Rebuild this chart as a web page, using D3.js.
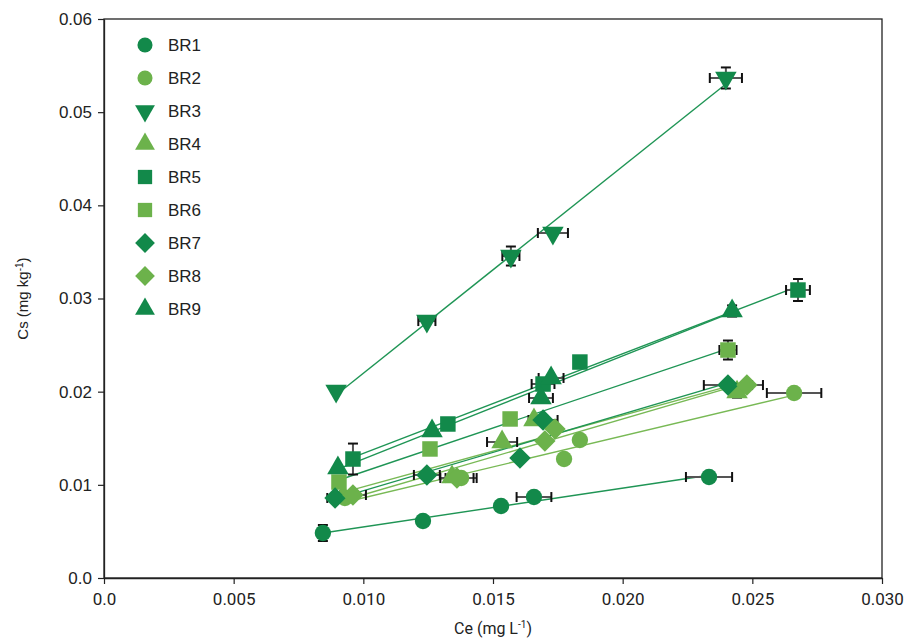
<!DOCTYPE html>
<html>
<head>
<meta charset="utf-8">
<script src="https://cdn.jsdelivr.net/npm/d3@7"></script>
<style>
  body { margin: 0; background: #fff; }
  svg text { fill: #222; }
</style>
</head>
<body>
<div id="chart"></div>
<script>
// series names (order = legend order)
const seriesNames = ["BR1", "BR2", "BR3", "BR4", "BR5", "BR6", "BR7", "BR8", "BR9"];
const xTicks = [0, 0.005, 0.010, 0.015, 0.020, 0.025, 0.030];
const yTicks = [0, 0.01, 0.02, 0.03, 0.04, 0.05, 0.06];

// Ce values (x), Cs values (y), and errors, per series
const ceBR1 = [0.00844, 0.01230, 0.01531, 0.01658, 0.02333];
const csBR1 = [0.00483, 0.00612, 0.00773, 0.00869, 0.01084];
const xeBR1 = [0, 0, 0, 0.00067, 0.00089];
const yeBR1 = [0.00086, 0, 0, 0, 0];

const ceBR2 = [0.00929, 0.01377, 0.01774, 0.01835, 0.02661];
const csBR2 = [0.00859, 0.01073, 0.01277, 0.01481, 0.01986];
const xeBR2 = [0, 0.0006, 0, 0, 0.00105];
const yeBR2 = [0, 0, 0, 0, 0];

const ceBR3 = [0.00895, 0.01245, 0.01569, 0.01731, 0.02398];
const csBR3 = [0.02007, 0.02758, 0.03456, 0.03703, 0.05367];
const xeBR3 = [0, 0.00033, 0.00033, 0.00058, 0.00062];
const yeBR3 = [0, 0, 0.00102, 0, 0.00113];

const ceBR4 = [0.00922, 0.01342, 0.01535, 0.01658, 0.02441];
const csBR4 = [0.00880, 0.01084, 0.01460, 0.01696, 0.01996];
const xeBR4 = [0, 0, 0.00058, 0, 0];
const yeBR4 = [0, 0, 0, 0, 0.0006];

const ceBR5 = [0.00960, 0.01326, 0.01693, 0.01835, 0.02676];
const csBR5 = [0.01277, 0.01653, 0.02082, 0.02318, 0.03091];
const xeBR5 = [0, 0, 0.00044, 0, 0.00046];
const yeBR5 = [0.00166, 0, 0, 0, 0.00118];

const ceBR6 = [0.00906, 0.01257, 0.01566, 0.02406];
const csBR6 = [0.01030, 0.01385, 0.01707, 0.02447];
const xeBR6 = [0, 0, 0, 0.00033];
const yeBR6 = [0, 0, 0, 0.00102];

const ceBR7 = [0.00891, 0.01245, 0.01604, 0.01693, 0.02406];
const csBR7 = [0.00859, 0.01106, 0.01288, 0.01696, 0.02071];
const xeBR7 = [0.0003, 0.0005, 0, 0.00056, 0.00093];
const yeBR7 = [0, 0, 0, 0, 0.0003];

const ceBR8 = [0.00960, 0.01361, 0.01700, 0.01739, 0.02479];
const csBR8 = [0.00891, 0.01073, 0.01470, 0.01599, 0.02071];
const xeBR8 = [0.0005, 0.00064, 0, 0, 0.00062];
const yeBR8 = [0, 0, 0, 0, 0];

const ceBR9 = [0.00902, 0.01265, 0.01685, 0.01724, 0.02422];
const csBR9 = [0.01181, 0.01578, 0.01932, 0.02147, 0.02866];
const xeBR9 = [0, 0, 0.00046, 0.00048, 0];
const yeBR9 = [0, 0, 0, 0, 0.0006];

const dark = "#12894a", light = "#6cb24b";
const darkLine = "#1f9555", lightLine = "#78b955";

let series = [
  { name: "BR1", ce: ceBR1, cs: csBR1, xe: xeBR1, ye: yeBR1, color: dark,  line: darkLine,  shape: "circle" },
  { name: "BR2", ce: ceBR2, cs: csBR2, xe: xeBR2, ye: yeBR2, color: light, line: lightLine, shape: "circle" },
  { name: "BR3", ce: ceBR3, cs: csBR3, xe: xeBR3, ye: yeBR3, color: dark,  line: darkLine,  shape: "tridown" },
  { name: "BR4", ce: ceBR4, cs: csBR4, xe: xeBR4, ye: yeBR4, color: light, line: lightLine, shape: "triup" },
  { name: "BR5", ce: ceBR5, cs: csBR5, xe: xeBR5, ye: yeBR5, color: dark,  line: darkLine,  shape: "square" },
  { name: "BR6", ce: ceBR6, cs: csBR6, xe: xeBR6, ye: yeBR6, color: light, line: darkLine,  shape: "square" },
  { name: "BR7", ce: ceBR7, cs: csBR7, xe: xeBR7, ye: yeBR7, color: dark,  line: darkLine,  shape: "diamond" },
  { name: "BR8", ce: ceBR8, cs: csBR8, xe: xeBR8, ye: yeBR8, color: light, line: lightLine, shape: "diamond" },
  { name: "BR9", ce: ceBR9, cs: csBR9, xe: xeBR9, ye: yeBR9, color: dark,  line: darkLine,  shape: "triup" }
];

let dim = { width: 909, height: 638, margin: { top: 19, right: 27, bottom: 60, left: 104 } };
dim.plot = {
  width: dim.width - dim.margin.left - dim.margin.right,
  height: dim.height - dim.margin.top - dim.margin.bottom
};

let x = d3.scaleLinear().domain([0, 0.03]).range([0, dim.plot.width]);
let y = d3.scaleLinear().domain([0, 0.06]).range([dim.plot.height, 0]);

function symbolPath(shape, scale) {
  scale = scale || 1;
  if (shape === "circle") return d3.symbol(d3.symbolCircle, 210 * scale)();
  if (shape === "square") return d3.symbol(d3.symbolSquare, 240 * scale)();
  if (shape === "diamond") return d3.symbol(d3.symbolSquare, 230 * scale)();
  return d3.symbol(d3.symbolTriangle, 200 * scale)();
}
function symbolRotate(shape) {
  if (shape === "diamond") return 45;
  if (shape === "tridown") return 180;
  return 0;
}

// least-squares line through a series, drawn over its Ce range
function fit(ce, cs) {
  let mx = d3.mean(ce), my = d3.mean(cs);
  let sxy = d3.sum(ce, (c, i) => (c - mx) * (cs[i] - my));
  let sxx = d3.sum(ce, c => (c - mx) * (c - mx));
  let b = sxy / sxx, a = my - b * mx;
  let [x0, x1] = d3.extent(ce);
  return [[x0, a + b * x0], [x1, a + b * x1]];
}

let svg = d3.select("#chart").append("svg")
    .attr("width", dim.width)
    .attr("height", dim.height);

let g = svg.append("g")
    .attr("transform", "translate(" + dim.margin.left + "," + dim.margin.top + ")");

// frame
g.append("rect")
    .attr("width", dim.plot.width)
    .attr("height", dim.plot.height)
    .attr("fill", "none")
    .attr("stroke", "#222")
    .attr("stroke-width", 1.3);

let xAxis = d3.axisBottom(x).tickValues(xTicks).tickSizeOuter(0).tickSizeInner(6)
    .tickFormat(d => d === 0 ? "0.0" : d3.format(".3f")(d));
let yAxis = d3.axisLeft(y).tickValues(yTicks).tickSizeOuter(0).tickSizeInner(6)
    .tickFormat(d => d === 0 ? "0.0" : d3.format(".2f")(d));

let gx = g.append("g")
    .attr("transform", "translate(0," + dim.plot.height + ")")
    .call(xAxis);
gx.selectAll("text")
    .attr("dy", "1.05em")
    .style("font-family", "'Liberation Sans Narrow', 'Roboto', sans-serif")
    .style("font-size", "17px");

let gy = g.append("g").call(yAxis);
gy.selectAll("text")
    .attr("x", -12)
    .style("font-family", "'Liberation Sans', Arial, sans-serif")
    .style("font-size", "17px");

[gx, gy].forEach(a => {
  a.select(".domain").attr("stroke", "#222").attr("stroke-width", 1.3);
  a.selectAll(".tick line").attr("stroke", "#222").attr("stroke-width", 1.2);
});

// axis titles
let xt = svg.append("text")
    .attr("x", dim.margin.left + x(0.015))
    .attr("y", 634)
    .attr("text-anchor", "middle")
    .style("font-family", "'Liberation Sans Narrow', 'Roboto', sans-serif")
    .style("font-size", "16px");
xt.append("tspan").text("Ce (mg L");
xt.append("tspan").attr("dy", -6).style("font-size", "10px").text("-1");
xt.append("tspan").attr("dy", 6).text(")");

let yt = svg.append("text")
    .attr("transform", "translate(28," + (dim.margin.top + y(0.03)) + ") rotate(-90)")
    .attr("text-anchor", "middle")
    .style("font-family", "'Liberation Sans', Arial, sans-serif")
    .style("font-size", "15px");
yt.append("tspan").text("Cs (mg kg");
yt.append("tspan").attr("dy", -5).style("font-size", "10px").text("-1");
yt.append("tspan").attr("dy", 5).text(")");

let line = d3.line().x(d => x(d[0])).y(d => y(d[1]));

// fitted lines
series.forEach(s => {
  g.append("path")
      .datum(fit(s.ce, s.cs))
      .attr("d", line)
      .attr("fill", "none")
      .attr("stroke", s.line)
      .attr("stroke-width", 1.4);
});

// error bars
let cap = 5;
series.forEach(s => {
  s.ce.forEach((c, i) => {
    let px = x(c), py = y(s.cs[i]);
    if (s.xe[i] > 0) {
      let x0 = x(c - s.xe[i]), x1 = x(c + s.xe[i]);
      g.append("line").attr("x1", x0).attr("x2", x1).attr("y1", py).attr("y2", py)
          .attr("stroke", "#555").attr("stroke-width", 2);
      [x0, x1].forEach(xx => g.append("line").attr("x1", xx).attr("x2", xx)
          .attr("y1", py - cap).attr("y2", py + cap)
          .attr("stroke", "#111").attr("stroke-width", 2));
    }
    if (s.ye[i] > 0) {
      let y0 = y(s.cs[i] - s.ye[i]), y1 = y(s.cs[i] + s.ye[i]);
      g.append("line").attr("x1", px).attr("x2", px).attr("y1", y0).attr("y2", y1)
          .attr("stroke", "#555").attr("stroke-width", 2);
      [y0, y1].forEach(yy => g.append("line").attr("x1", px - cap).attr("x2", px + cap)
          .attr("y1", yy).attr("y2", yy)
          .attr("stroke", "#111").attr("stroke-width", 2));
    }
  });
});

// markers
series.forEach(s => {
  g.append("g").selectAll("path")
      .data(s.ce.map((c, i) => [c, s.cs[i]]))
      .join("path")
      .attr("d", symbolPath(s.shape))
      .attr("transform", d => "translate(" + x(d[0]) + "," + y(d[1]) + ") rotate(" + symbolRotate(s.shape) + ")")
      .attr("fill", s.color);
});

// legend
let legend = svg.append("g").attr("transform", "translate(145,45)");
series.forEach((s, i) => {
  let row = legend.append("g").attr("transform", "translate(0," + (i * 33) + ")");
  row.append("path")
      .attr("d", symbolPath(s.shape, 0.85))
      .attr("transform", "rotate(" + symbolRotate(s.shape) + ")")
      .attr("fill", s.color);
  row.append("text")
      .attr("x", 23)
      .attr("dy", "0.36em")
      .style("font-family", "'Liberation Sans', Arial, sans-serif")
      .style("font-size", "17px")
      .text(s.name);
});
</script>
</body>
</html>
